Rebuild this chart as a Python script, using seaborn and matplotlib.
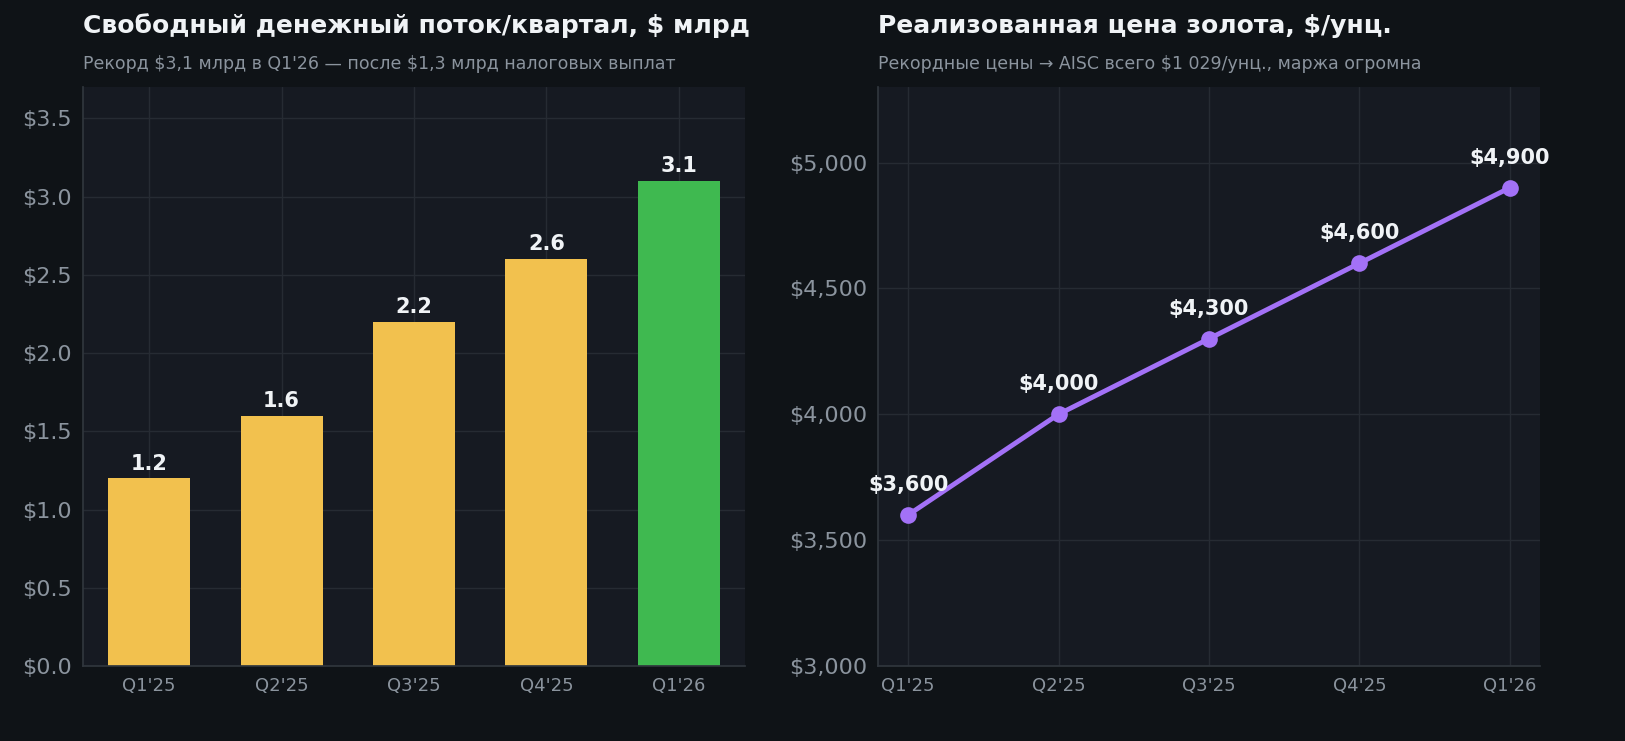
import matplotlib
matplotlib.use("Agg")
import matplotlib.pyplot as plt
import seaborn as sns
import pandas as pd

quarters = ["Q1'25", "Q2'25", "Q3'25", "Q4'25", "Q1'26"]
fcf = [1.2, 1.6, 2.2, 2.6, 3.1]
price = [3600, 4000, 4300, 4600, 4900]
bar_colors = ["#f2c14e", "#f2c14e", "#f2c14e", "#f2c14e", "#3fb950"]

sns.set_theme(style="dark")
plt.rcParams['font.family'] = ['DejaVu Sans']
plt.rcParams['text.parse_math'] = False
BG = "#0f1317"; AX = "#161a22"; GRID = "#262b33"; TICK = "#8b949e"

fig = plt.figure(figsize=(16.25, 7.41), dpi=100, facecolor=BG)
ax1 = fig.add_axes([83/1625, 1-666/741, 662/1625, 579/741])
ax2 = fig.add_axes([878/1625, 1-666/741, 662/1625, 579/741])

df = pd.DataFrame({"q": quarters, "fcf": fcf, "price": price})
sns.barplot(data=df, x="q", y="fcf", hue="q", palette=bar_colors, legend=False, ax=ax1,
            width=0.62, saturation=1, linewidth=0, edgecolor="none")
for i, v in enumerate(fcf):
    ax1.text(i, v + 0.03, f"{v:.1f}", ha="center", va="bottom", color="#f0f3f6", fontsize=15, fontweight="bold")
ax1.set_ylim(0, 3.7)
ax1.set_yticks([0, 0.5, 1, 1.5, 2, 2.5, 3, 3.5])
ax1.set_yticklabels([f"${t:.1f}" for t in [0, 0.5, 1, 1.5, 2, 2.5, 3, 3.5]])

sns.lineplot(data=df, x="q", y="price", ax=ax2, color="#a371f7", linewidth=3.5, marker="o",
             markersize=12, markeredgewidth=0, sort=False)
for i, v in enumerate(price):
    ax2.text(i, v + 80, f"${v:,}", ha="center", va="bottom", color="#f0f3f6", fontsize=15, fontweight="bold")
ax2.set_ylim(3000, 5300)
ax2.set_xlim(-0.2, 4.2)
ax2.set_yticks([3000, 3500, 4000, 4500, 5000])
ax2.set_yticklabels([f"${t:,}" for t in [3000, 3500, 4000, 4500, 5000]])

for ax in (ax1, ax2):
    ax.set_facecolor(AX)
    ax.grid(True, color=GRID, linewidth=1)
    ax.set_axisbelow(True)
    ax.set_xlabel(""); ax.set_ylabel("")
    for s in ["top", "right"]:
        ax.spines[s].set_visible(False)
    for s in ["left", "bottom"]:
        ax.spines[s].set_color("#30363d")
    ax.tick_params(axis="y", colors=TICK, labelsize=16, length=0, pad=8)
    ax.tick_params(axis="x", colors=TICK, labelsize=13, length=0, pad=8)

fig.text(83/1625, 1-26/741, "Свободный денежный поток/квартал, $ млрд", color="#f0f3f6", fontsize=18, fontweight="bold", va="center")
fig.text(83/1625, 1-64/741, "Рекорд $3,1 млрд в Q1'26 — после $1,3 млрд налоговых выплат", color=TICK, fontsize=12.5, va="center")
fig.text(878/1625, 1-26/741, "Реализованная цена золота, $/унц.", color="#f0f3f6", fontsize=18, fontweight="bold", va="center")
fig.text(878/1625, 1-64/741, "Рекордные цены → AISC всего $1 029/унц., маржа огромна", color=TICK, fontsize=12.5, va="center")

fig.savefig("out.png", dpi=100, facecolor=BG)
